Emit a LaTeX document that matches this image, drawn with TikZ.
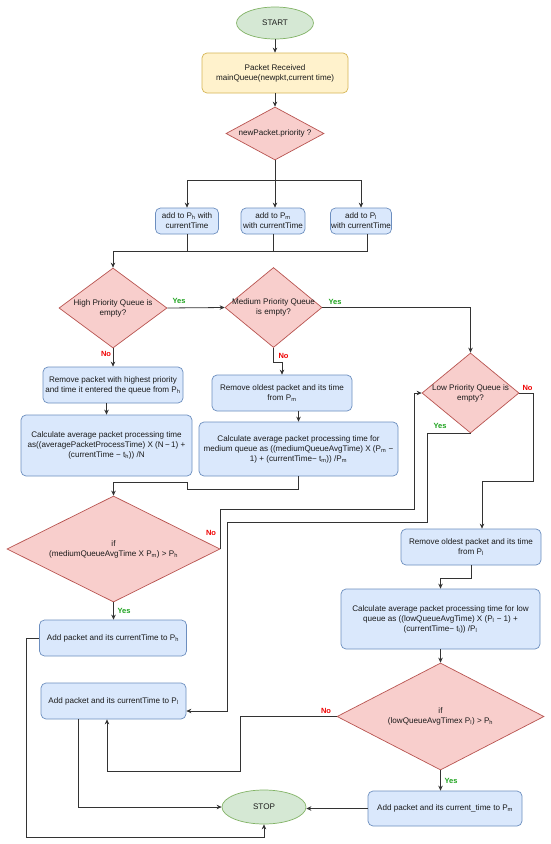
\documentclass[tikz,border=0pt]{standalone}
\usepackage{fontspec}
\setmainfont{Liberation Sans}
\usetikzlibrary{shapes.geometric,arrows.meta}
\definecolor{gfill}{HTML}{D5E8D4}\definecolor{gdraw}{HTML}{82B366}
\definecolor{yfill}{HTML}{FFF2CC}\definecolor{ydraw}{HTML}{D6B656}
\definecolor{rfill}{HTML}{F8CECC}\definecolor{rdraw}{HTML}{B85450}
\definecolor{bfill}{HTML}{DAE8FC}\definecolor{bdraw}{HTML}{6C8EBF}
\definecolor{yescol}{HTML}{1EA31E}\definecolor{nocol}{HTML}{F00000}
\definecolor{linecol}{HTML}{333333}\definecolor{txtcol}{HTML}{1A1A1A}
\newcommand\sbs[1]{\textsubscript{#1}}
\newcommand\ztext[1]{\makebox[0pt][c]{\begin{tabular}{@{}c@{}}#1\end{tabular}}}
\begin{document}
\begin{tikzpicture}[x=1pt,y=-1pt,
  base/.style={font=\fontsize{8.1}{10}\selectfont, text=txtcol, inner sep=0pt, line width=0.7pt},
  term/.style={base, ellipse, draw=gdraw, fill=gfill},
  ybox/.style={base, rectangle, rounded corners=5pt, draw=ydraw, fill=yfill},
  proc/.style={base, rectangle, rounded corners=5pt, draw=bdraw, fill=bfill},
  dec/.style={base, diamond, draw=rdraw, fill=rfill},
  ln/.style={line width=0.8pt, draw=linecol},
  arr/.style={ln, -{Stealth[length=5pt,width=4.5pt]}},
  yeslab/.style={font=\fontsize{7.5}{9}\selectfont\bfseries, text=yescol, inner sep=0pt},
  nolab/.style={font=\fontsize{7.5}{9}\selectfont\bfseries, text=nocol, inner sep=0pt}]
\useasboundingbox (0,0) rectangle (550,844);
\fill[white] (0,0) rectangle (550,844);

% nodes
\node[term, minimum width=77pt, minimum height=32pt] (start) at (275,23) {\ztext{START}};
\node[ybox, minimum width=146pt, minimum height=40pt] (recv) at (275,73) {\ztext{Packet Received\\mainQueue(newpkt,current time)}};
\node[dec, minimum width=98pt, minimum height=53pt] (prio) at (275,133.5) {\ztext{newPacket.priority ?}};

\node[proc, minimum width=63pt, minimum height=26pt] (addh) at (187,221) {\ztext{add to P\sbs{h} with\\currentTime}};
\node[proc, minimum width=64pt, minimum height=26pt] (addm) at (273,221) {\ztext{add to P\sbs{m}\\with currentTime}};
\node[proc, minimum width=61pt, minimum height=26pt] (addl) at (361,221) {\ztext{add to P\sbs{l}\\with currentTime}};

\node[dec, minimum width=108pt, minimum height=80pt] (high) at (113,308) {\ztext{High Priority Queue is\\empty?}};
\node[dec, minimum width=97pt, minimum height=80pt] (med) at (273.5,307.5) {\ztext{Medium Priority Queue\\is empty?}};
\node[dec, minimum width=97pt, minimum height=80pt] (low) at (470.5,393) {\ztext{Low Priority Queue is\\empty?}};

\node[proc, minimum width=140pt, minimum height=36pt] (remh) at (113,385) {\ztext{Remove packet with highest priority\\and time it entered the queue from P\sbs{h}}};
\node[proc, minimum width=171pt, minimum height=61pt] (calch) at (106.5,445.5) {\ztext{Calculate average packet processing time\\as((averagePacketProcessTime) X (N\,−\,1) +\\(currentTime − t\sbs{h})) /N}};
\node[proc, minimum width=140pt, minimum height=36pt] (remm) at (282,393) {\ztext{Remove oldest packet and its time\\from P\sbs{m}}};
\node[proc, minimum width=199pt, minimum height=54pt] (calcm) at (298.5,449) {\ztext{Calculate average packet processing time for\\medium queue as ((mediumQueueAvgTime) X (P\sbs{m} −\\1) + (currentTime− t\sbs{m})) /P\sbs{m}}};

\node[dec, minimum width=213pt, minimum height=106pt] (ifm) at (113.5,549) {\ztext{if\\(mediumQueueAvgTime X P\sbs{m}) > P\sbs{h}}};
\node[proc, minimum width=147pt, minimum height=36pt] (addph) at (113,638) {\ztext{Add packet and its currentTime to P\sbs{h}}};
\node[proc, minimum width=145pt, minimum height=36pt] (addpl) at (113.5,701) {\ztext{Add packet and its currentTime to P\sbs{l}}};

\node[proc, minimum width=140pt, minimum height=36pt] (reml) at (471,547) {\ztext{Remove oldest packet and its time\\from P\sbs{l}}};
\node[proc, minimum width=199pt, minimum height=60pt] (calcl) at (440.5,619) {\ztext{Calculate average packet processing time for low\\queue as ((lowQueueAvgTime) X (P\sbs{l} − 1) +\\(currentTime− t\sbs{l})) /P\sbs{l}}};
\node[dec, minimum width=207pt, minimum height=107pt] (ifl) at (440.5,716.5) {\ztext{if\\(lowQueueAvgTimex P\sbs{l}) > P\sbs{h}}};
\node[proc, minimum width=154pt, minimum height=35pt] (addpm) at (445,808.5) {\ztext{Add packet and its current\_time to P\sbs{m}}};
\node[term, minimum width=84pt, minimum height=34pt] (stop) at (264,807) {\ztext{STOP}};

% labels
\node[yeslab] (ly1) at (179,301) {Yes};
\node[yeslab] (ly2) at (335,302) {Yes};
\node[nolab] (ln1) at (106,354) {No};
\node[nolab] (ln2) at (283.5,356) {No};
\node[nolab] (ln3) at (527.5,388) {No};
\node[yeslab] (ly3) at (440,426) {Yes};
\node[nolab] (ln4) at (211,533) {No};
\node[yeslab] (ly4) at (124,611) {Yes};
\node[nolab] (ln5) at (326,711) {No};
\node[yeslab] (ly5) at (451,781) {Yes};

% connectors
\draw[arr] (start) -- (recv);
\draw[arr] (recv) -- (prio);
\coordinate (jt) at (275,180);
\coordinate (jb) at (113,251);
\draw[arr] (prio.south) -- (jt) -| (addh.north);
\draw[arr] (jt) -- (jt |- addm.north);
\draw[arr] (jt) -| (addl.north);
\draw[ln] (addh.south) -- (addh.south |- jb);
\draw[ln] (addm.south) -- (addm.south |- jb);
\draw[arr] ([xshift=6pt]addl.south) |- (jb) -- (high.north);

\draw[arr] (high.east) -- (med.west);
\draw[arr] (med.east) -| (low.north);
\draw[arr] (high.south) -- (remh.north);
\draw[arr] (calch.north |- remh.south) -- (calch.north);
\draw[arr] (med.south) -- (273.5,362) -| (remm.north);
\draw[arr] (calcm.north |- remm.south) -- (calcm.north);
\draw[arr] (calcm.south) |- (187,489) -- (187,482) -| (ifm.north);

\draw[arr] (ifm.east) |- (414,509) |- (low.west);
\draw[arr] (ifm.south) -- (ifm.south |- addph.north);
\draw[arr] (addph.west) -| (26,837) -| (stop.south);
\draw[arr] ([xshift=-35.5pt]addpl.south) |- (stop.west);

\draw[arr] (low.south) -| (427,522) -| (227,711) -- ([yshift=-10pt]addpl.east);
\draw[arr] (low.east) -| (533,481) -| ([xshift=11pt]reml.north);
\draw[arr] (reml.south) |- (440.5,578) -- (calcl.north);
\draw[arr] (calcl.south) -- (ifl.north);
\draw[arr] (ifl.west) -| (240,771) -| ([xshift=-6.5pt]addpl.south);
\draw[arr] (ifl.south) -- (ifl.south |- addpm.north);
\draw[arr] (addpm.west) -- (addpm.west -| stop.east);
\end{tikzpicture}
\end{document}
